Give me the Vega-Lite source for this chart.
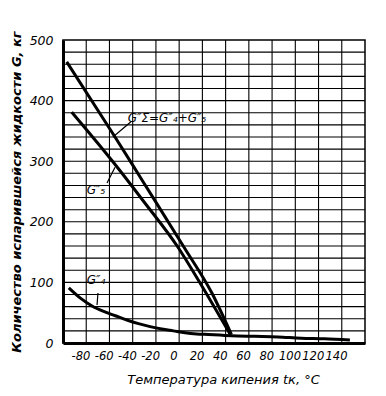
{
  "$schema": "https://vega.github.io/schema/vega-lite/v6.json",
  "width": 302,
  "height": 303,
  "autosize": {"type": "none"},
  "padding": {"left": 63, "top": 40, "right": 21, "bottom": 53},
  "background": "white",
  "config": {
    "view": {"stroke": "black", "strokeWidth": 1.5},
    "axis": {"labelOverlap": false, "labelBound": false, "labelFlush": false, "grid": false, "ticks": false, "domainColor": "black", "domainWidth": 3, "labelColor": "black", "titleColor": "black", "labelFontStyle": "italic", "titleFontStyle": "italic"},
    "axisX": {"labelFont": "DejaVu Sans", "labelFontSize": 11.5, "labelPadding": 7, "titleFont": "DejaVu Sans", "titleFontWeight": "normal", "titleFontSize": 13, "titleX": 160, "titleY": 30},
    "axisY": {"labelFont": "DejaVu Sans", "labelFontSize": 12.5, "labelPadding": 10, "titleFont": "DejaVu Sans", "titleFontWeight": "bold", "titleFontSize": 13, "titlePadding": 6}
  },
  "datasets": {
    "curves": [
      {"series": "GS", "t": -91.8, "G": 464},
      {"series": "GS", "t": -50.2, "G": 340},
      {"series": "GS", "t": -27, "G": 269},
      {"series": "GS", "t": 9.2, "G": 158},
      {"series": "GS", "t": 33.3, "G": 82},
      {"series": "GS", "t": 50, "G": 14},
      {"series": "G5", "t": -87.5, "G": 381},
      {"series": "G5", "t": -52, "G": 299},
      {"series": "G5", "t": -26.5, "G": 236},
      {"series": "G5", "t": 4, "G": 158},
      {"series": "G5", "t": 23, "G": 99},
      {"series": "G5", "t": 49, "G": 14},
      {"series": "G4", "t": -90, "G": 91},
      {"series": "G4", "t": -80, "G": 74},
      {"series": "G4", "t": -70, "G": 61},
      {"series": "G4", "t": -60, "G": 52},
      {"series": "G4", "t": -50, "G": 45},
      {"series": "G4", "t": -40, "G": 38},
      {"series": "G4", "t": -30, "G": 32},
      {"series": "G4", "t": -20, "G": 27},
      {"series": "G4", "t": -10, "G": 23},
      {"series": "G4", "t": 0, "G": 20},
      {"series": "G4", "t": 10, "G": 17},
      {"series": "G4", "t": 20, "G": 15},
      {"series": "G4", "t": 30, "G": 14},
      {"series": "G4", "t": 40, "G": 13},
      {"series": "G4", "t": 50, "G": 12},
      {"series": "G4", "t": 70, "G": 11},
      {"series": "G4", "t": 90, "G": 10},
      {"series": "G4", "t": 110, "G": 8},
      {"series": "G4", "t": 130, "G": 7},
      {"series": "G4", "t": 152, "G": 5}
    ],
    "gridT": [
      {"t": -75}, {"t": -55}, {"t": -35}, {"t": -15}, {"t": 5}, {"t": 25},
      {"t": 45}, {"t": 65}, {"t": 85}, {"t": 105}, {"t": 125}, {"t": 145}
    ],
    "gridG": [
      {"G": 20}, {"G": 40}, {"G": 60}, {"G": 80}, {"G": 100}, {"G": 120}, {"G": 140}, {"G": 160},
      {"G": 180}, {"G": 200}, {"G": 220}, {"G": 240}, {"G": 260}, {"G": 280}, {"G": 300}, {"G": 320},
      {"G": 340}, {"G": 360}, {"G": 380}, {"G": 400}, {"G": 420}, {"G": 440}, {"G": 460}, {"G": 480}
    ],
    "labels": [
      {"label": "G″Σ=G″₄+G″₅", "x": -5.5, "y": 371},
      {"label": "G″₅", "x": -66.6, "y": 252},
      {"label": "G″₄", "x": -66.6, "y": 104}
    ],
    "leaders": [
      {"x1": -52, "y1": 340, "x2": -36.5, "y2": 365},
      {"x1": -57.1, "y1": 264, "x2": -50.2, "y2": 290},
      {"x1": -64.9, "y1": 82.5, "x2": -65.7, "y2": 62.7}
    ]
  },
  "layer": [
    {
      "data": {"name": "curves"},
      "mark": {"type": "line", "color": "black", "strokeWidth": 3, "interpolate": "monotone"},
      "encoding": {
        "x": {
          "field": "t", "type": "quantitative",
          "scale": {"domain": [-95, 165], "nice": false, "zero": false},
          "axis": {"values": [-80, -60, -40, -20, 0, 20, 40, 60, 80, 100, 120, 140], "labelExpr": "'' + datum.value", "labelOverlap": false, "title": "Температура кипения  tк, °C"}
        },
        "y": {
          "field": "G", "type": "quantitative",
          "scale": {"domain": [0, 500], "nice": false},
          "axis": {"values": [0, 100, 200, 300, 400, 500], "labelExpr": "'' + datum.value", "labelOverlap": false, "title": "Количество испарившейся жидкости G, кг"}
        },
        "detail": {"field": "series"}
      }
    },
    {
      "data": {"name": "gridT"},
      "mark": {"type": "rule", "color": "black", "strokeWidth": 1.1},
      "encoding": {
        "x": {
          "field": "t", "type": "quantitative",
          "scale": {"domain": [-95, 165], "nice": false, "zero": false},
          "axis": {"values": [-80, -60, -40, -20, 0, 20, 40, 60, 80, 100, 120, 140], "labelExpr": "'' + datum.value", "labelOverlap": false, "title": "Температура кипения  tк, °C"}
        }
      }
    },
    {
      "data": {"name": "gridG"},
      "mark": {"type": "rule", "color": "black", "strokeWidth": 1.1},
      "encoding": {
        "y": {
          "field": "G", "type": "quantitative",
          "scale": {"domain": [0, 500], "nice": false},
          "axis": {"values": [0, 100, 200, 300, 400, 500], "labelExpr": "'' + datum.value", "labelOverlap": false, "title": "Количество испарившейся жидкости G, кг"}
        }
      }
    },
    {
      "data": {"name": "leaders"},
      "mark": {"type": "rule", "color": "black", "strokeWidth": 1.2},
      "encoding": {
        "x": {
          "field": "x1", "type": "quantitative",
          "scale": {"domain": [-95, 165], "nice": false, "zero": false},
          "axis": {"values": [-80, -60, -40, -20, 0, 20, 40, 60, 80, 100, 120, 140], "labelExpr": "'' + datum.value", "labelOverlap": false, "title": "Температура кипения  tк, °C"}
        },
        "x2": {"field": "x2"},
        "y": {
          "field": "y1", "type": "quantitative",
          "scale": {"domain": [0, 500], "nice": false},
          "axis": {"values": [0, 100, 200, 300, 400, 500], "labelExpr": "'' + datum.value", "labelOverlap": false, "title": "Количество испарившейся жидкости G, кг"}
        },
        "y2": {"field": "y2"}
      }
    },
    {
      "data": {"name": "labels"},
      "mark": {"type": "text", "color": "black", "font": "DejaVu Sans", "fontStyle": "italic", "fontSize": 12, "align": "center", "baseline": "middle"},
      "encoding": {
        "x": {
          "field": "x", "type": "quantitative",
          "scale": {"domain": [-95, 165], "nice": false, "zero": false},
          "axis": {"values": [-80, -60, -40, -20, 0, 20, 40, 60, 80, 100, 120, 140], "labelExpr": "'' + datum.value", "labelOverlap": false, "title": "Температура кипения  tк, °C"}
        },
        "y": {
          "field": "y", "type": "quantitative",
          "scale": {"domain": [0, 500], "nice": false},
          "axis": {"values": [0, 100, 200, 300, 400, 500], "labelExpr": "'' + datum.value", "labelOverlap": false, "title": "Количество испарившейся жидкости G, кг"}
        },
        "text": {"field": "label"}
      }
    }
  ]
}
